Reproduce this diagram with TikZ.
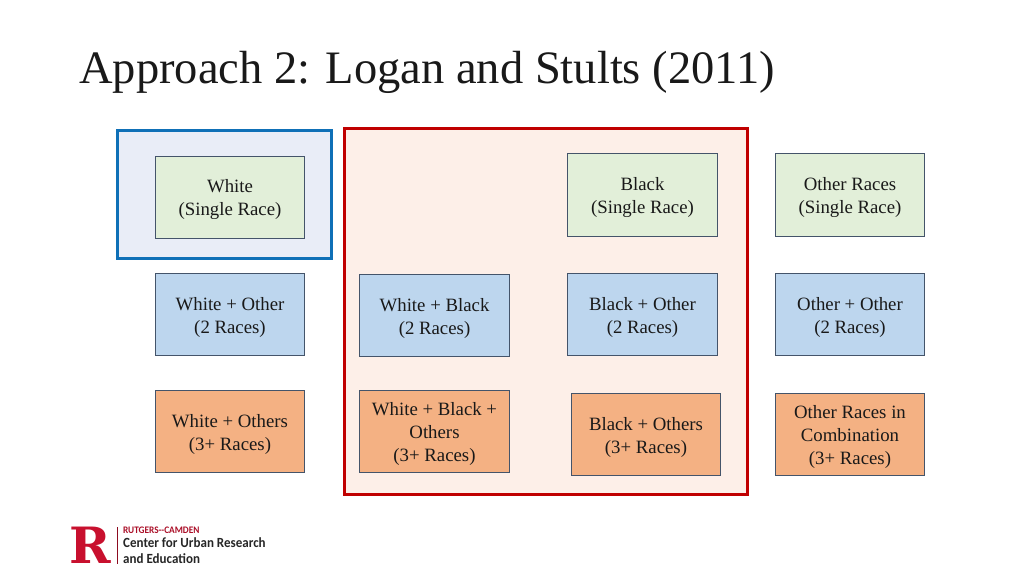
\documentclass[tikz,border=0pt]{standalone}
\usepackage{fontspec}
\setmainfont{Liberation Serif}
\newfontfamily\logofont[FakeStretch=0.93]{Carlito}
\newfontfamily\logoletter{DejaVu Serif}
\usetikzlibrary{positioning,fit}
\definecolor{singlefill}{HTML}{E2EFD9}
\definecolor{twofill}{HTML}{BDD6EE}
\definecolor{threefill}{HTML}{F4B183}
\definecolor{boxline}{HTML}{44546A}
\definecolor{bluezone}{HTML}{E9EDF7}
\definecolor{bluezoneline}{HTML}{0F70B7}
\definecolor{redzone}{HTML}{FDEFE8}
\definecolor{redzoneline}{HTML}{C00000}
\definecolor{rutgers}{HTML}{C8102E}
\newcommand{\lowline}{\rule{0pt}{18pt}}

\begin{document}
\begin{tikzpicture}[
	x=1pt,y=-1pt,
	racebox/.style={
		draw=boxline,
		line width=0.8pt,
		minimum width=149.5pt,
		minimum height=82.5pt,
		inner sep=0pt,
		align=center,
		text=black!90,
		font=\fontsize{18.8}{23}\selectfont
	},
	single/.style={racebox,fill=singlefill},
	two/.style={racebox,fill=twofill},
	three/.style={racebox,fill=threefill},
	zone/.style={
		line width=3pt,
		inner sep=0pt
	}]

	\useasboundingbox (0,0) rectangle (1024,576);

	\node[anchor=west,inner sep=0pt,font=\fontsize{46.5}{50}\selectfont,text=black!90] (title) at (79,72.5) {Approach 2: Logan and Stults (2011)};

	% the two zones
	\coordinate (blueA) at (117,130);
	\coordinate (blueB) at (331,258);
	\coordinate (redA) at (344,128);
	\coordinate (redB) at (747,494);
	\draw[zone,draw=bluezoneline,fill=bluezone] (blueA) rectangle (blueB);
	\draw[zone,draw=redzoneline,fill=redzone] (redA) rectangle (redB);

	% first column
	\node[single] (whiteone) at (230,197.5) {\lowline White\\(Single Race)};
	\node[two] (whitetwo) at (230,314.5) {\lowline White + Other\\(2 Races)};
	\node[three] (whitethree) at (230,431.5) {\lowline White + Others\\(3+ Races)};

	% second column
	\node[two] (wbtwo) at (434.5,315.5) {\lowline White + Black\\(2 Races)};
	\node[three] (wbthree) at (434.5,431.5) {\lowline White + Black +\\Others\\(3+ Races)};

	% third column
	\node[single] (blackone) at (642.5,195) {\lowline Black\\(Single Race)};
	\node[two] (blacktwo) at (642.5,314.5) {\lowline Black + Other\\(2 Races)};
	\node[three] (blackthree) at (646,434.5) {\lowline Black + Others\\(3+ Races)};

	% fourth column
	\node[single] (otherone) at (850,195) {\lowline Other Races\\(Single Race)};
	\node[two] (othertwo) at (850,314.5) {\lowline Other + Other\\(2 Races)};
	\node[three] (otherthree) at (850,434.5) {\lowline Other Races in\\Combination\\(3+ Races)};

	% logo
	\node[font=\logoletter\fontsize{50}{50}\bfseries\selectfont,text=rutgers,inner sep=0pt] (logor) at (90,545) {R};
	\draw[rutgers!70!black,line width=0.7pt] (117,527) -- (117,564);
	\node[anchor=west,inner sep=0pt,font=\logofont\fontsize{10}{10}\bfseries\selectfont,text=rutgers!85!black] (logotop) at (123,530) {RUTGERS--CAMDEN};
	\node[anchor=west,inner sep=0pt,font=\logofont\fontsize{14}{14}\bfseries\selectfont,text=black!85] (logomid) at (123,543) {Center for Urban Research};
	\node[anchor=west,inner sep=0pt,font=\logofont\fontsize{14}{14}\bfseries\selectfont,text=black!85] (logobot) at (123,559) {and Education};
\end{tikzpicture}
\end{document}
